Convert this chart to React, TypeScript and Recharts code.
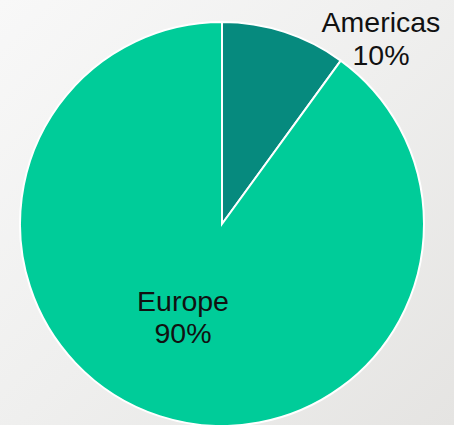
import React from "react";
import { PieChart, Pie, Cell } from "recharts";

const regions = ["Americas", "Europe"];
const shares = [10, 90];
const colors = ["#068a7e", "#00cc99"];

const data = regions.map((name, i) => ({ name, value: shares[i] }));

const renderLabel = (props: any) => {
  const { cx, cy, outerRadius, index, name, percent } = props;
  const R = outerRadius;
  let x: number;
  let y: number;
  if (index === 0) {
    x = cx + 0.787 * R;
    y = cy - 0.95 * R;
  } else {
    x = cx - 0.193 * R;
    y = cy + 0.43 * R;
  }
  const pct = `${Math.round(percent * 100)}%`;
  return (
    <text
      x={x}
      y={y}
      textAnchor="middle"
      fill="#111"
      fontSize={28.5}
      fontFamily="Liberation Sans, Arial, sans-serif"
    >
      <tspan x={x} dy={0}>{name}</tspan>
      <tspan x={x} dy={32.5}>{pct}</tspan>
    </text>
  );
};

export default function App() {
  return (
    <div
      style={{
        position: "absolute",
        left: 0,
        top: 0,
        width: 454,
        height: 425,
        overflow: "hidden",
        background: "linear-gradient(135deg, #f8f8f8 0%, #efefee 50%, #e5e4e2 100%)",
      }}
    >
      <PieChart width={454} height={425} margin={{ top: 0, right: 0, bottom: 0, left: 0 }}>
        <Pie
          data={data}
          dataKey="value"
          nameKey="name"
          cx={222}
          cy={224}
          outerRadius={202}
          startAngle={90}
          endAngle={-270}
          stroke="#ffffff"
          strokeWidth={2}
          label={renderLabel}
          labelLine={false}
          isAnimationActive={false}
        >
          {data.map((d, i) => (
            <Cell key={d.name} fill={colors[i]} />
          ))}
        </Pie>
      </PieChart>
    </div>
  );
}
